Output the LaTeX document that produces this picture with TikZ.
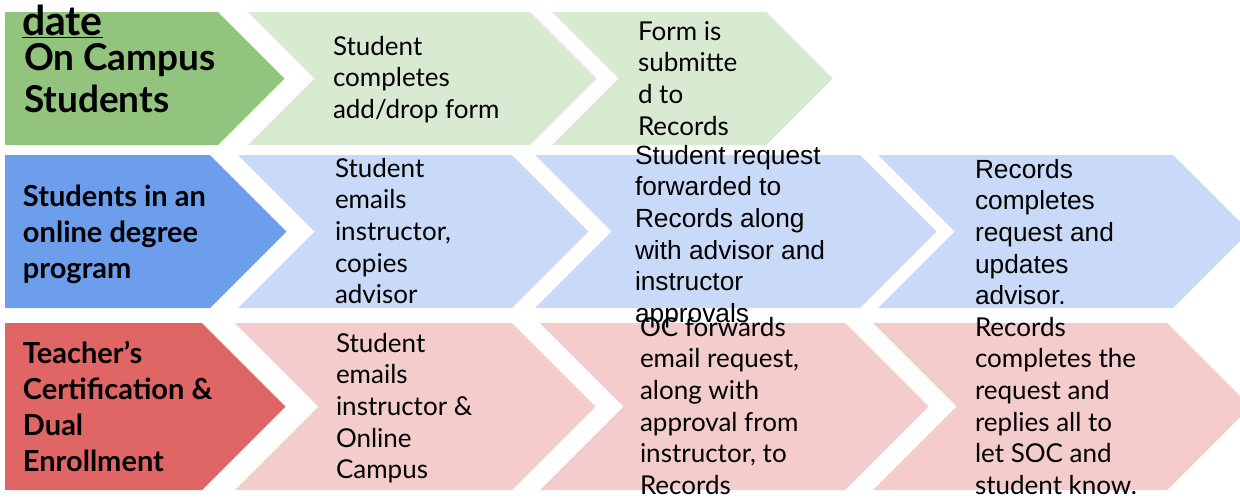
\documentclass[tikz,border=0pt]{standalone}
\usepackage{fontspec}
\newfontfamily\latofont{Lato}
\newfontfamily\arialfont{Liberation Sans}

\definecolor{greenhead}{HTML}{93C47D}
\definecolor{greenstep}{HTML}{D9EAD3}
\definecolor{bluehead}{HTML}{6D9EEB}
\definecolor{bluestep}{HTML}{C9DAF8}
\definecolor{redhead}{HTML}{E06666}
\definecolor{redstep}{HTML}{F4CCCC}

% chevron body: fill, left x, corner x, top y, bottom y, notch factor (0 = flat left side)
\newcommand\chevronbody[6]{%
  \pgfmathsetmacro\chvH{(#5-#4)/2}%
  \pgfmathsetmacro\chvM{(#5+#4)/2}%
  \pgfmathsetmacro\chvTip{#3+\chvH}%
  \pgfmathsetmacro\chvNotch{#2+#6*\chvH}%
  \fill[#1] (#2,#4) -- (#3,#4) -- (\chvTip,\chvM) -- (#3,#5) -- (#2,#5) -- (\chvNotch,\chvM) -- cycle;}

% left-aligned lines whose baseline is the first line's baseline
\newcommand\linestack[1]{\begin{tabular}[t]{@{}l@{}}#1\end{tabular}}

\tikzset{
  lbl/.style={inner sep=0pt, outer sep=0pt, anchor=base west, text=black},
  steplato/.style={lbl, font=\latofont\fontsize{26}{31.7}\selectfont},
  steparial/.style={lbl, font=\arialfont\fontsize{26.3}{31.7}\selectfont},
  headlbl/.style={lbl, font=\latofont\bfseries\fontsize{29}{36}\selectfont},
  bighead/.style={lbl, font=\latofont\bfseries\fontsize{37}{42}\selectfont},
}

\begin{document}
\begin{tikzpicture}[x=1pt,y=-1pt]
\useasboundingbox (0,0) rectangle (1240,499);
\fill[white] (0,0) rectangle (1240,499);

% on-campus row
\chevronbody{greenhead}{5}{218}{12}{145}{0}
\chevronbody{greenstep}{248}{530}{12}{145}{1}
\chevronbody{greenstep}{552}{766}{12}{145}{1}

% online degree row
\chevronbody{bluehead}{5}{210}{155}{308}{0}
\chevronbody{bluestep}{238}{512}{155}{308}{1}
\chevronbody{bluestep}{535}{860}{155}{308}{1}
\chevronbody{bluestep}{878}{1173}{155}{308}{1}

% teacher certification row
\chevronbody{redhead}{5}{202}{323}{490}{0}
\chevronbody{redstep}{235}{512}{323}{490}{1}
\chevronbody{redstep}{540}{845}{323}{490}{1}
\chevronbody{redstep}{873}{1167}{323}{490}{1}

% labels
\node[lbl, font=\latofont\bfseries\fontsize{41}{42}\selectfont] (gdate) at (22,35) {\underline{date}};
\node[bighead] (ghead) at (24,70) {\linestack{On Campus\\Students}};
\node[steplato] (gs1) at (333,55) {\linestack{Student\\completes\\add/drop form}};
\node[steplato] (gs2) at (638,40) {\linestack{Form is\\submitte\\d to\\Records}};

\node[headlbl] (bhead) at (23,206) {\linestack{Students in an\\online degree\\program}};
\node[steplato] (bs1) at (335,177) {\linestack{Student\\emails\\instructor,\\copies\\advisor}};
\node[steparial] (bs2) at (635,164) {\linestack{Student request\\forwarded to\\Records along\\with advisor and\\instructor\\approvals}};
\node[steparial] (bs3) at (975,178) {\linestack{Records\\completes\\request and\\updates\\advisor.}};

\node[headlbl] (rhead) at (23,363) {\linestack{Teacher’s\\Certification \&\\Dual\\Enrollment}};
\node[steplato] (rs1) at (336,352) {\linestack{Student\\emails\\instructor \&\\Online\\Campus}};
\node[steplato] (rs2) at (640,336) {\linestack{OC forwards\\email request,\\along with\\approval from\\instructor, to\\Records}};
\node[steplato] (rs3) at (975,336) {\linestack{Records\\completes the\\request and\\replies all to\\let SOC and\\student know.}};
\end{tikzpicture}
\end{document}
